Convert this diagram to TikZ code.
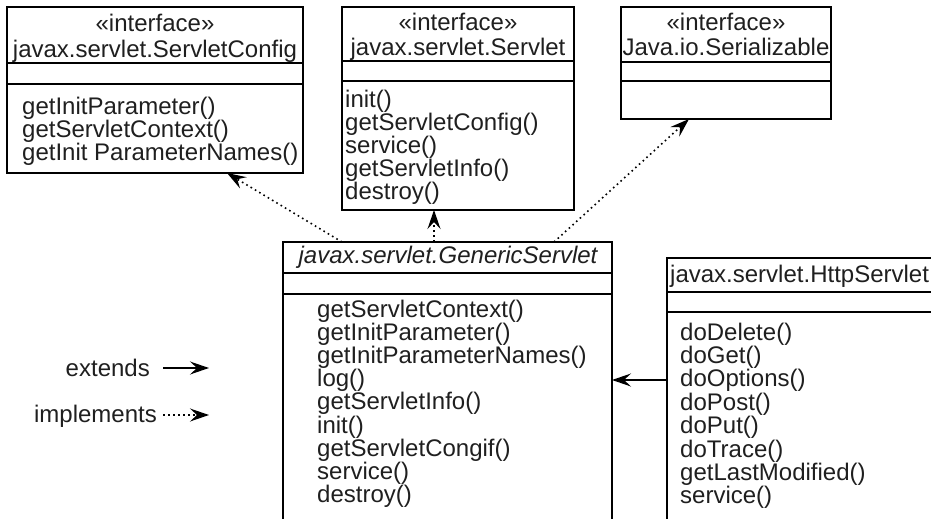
\documentclass[tikz,border=0pt]{standalone}
\usepackage{fontspec}
\setmainfont{Liberation Sans}
\usetikzlibrary{arrows.meta,calc}
\begin{document}
\begin{tikzpicture}[x=1pt,y=-1pt,
  box/.style={draw=black, line width=1.2pt, inner sep=0pt, outer sep=0pt, anchor=north west},
  divider/.style={draw=black, line width=1.2pt},
  txt/.style={font=\fontsize{24}{23}\selectfont, text=black!88, inner sep=0pt},
  hdr/.style={txt, anchor=base},
  meth/.style={txt, anchor=base west},
  tip/.style={-{Stealth[length=19pt,width=13pt,inset=7pt]}},
  impl/.style={tip, line width=1.6pt, dash pattern=on 1.6pt off 3.4pt},
  ext/.style={tip, line width=1.5pt}]
\useasboundingbox (0,0) rectangle (931,519);
\clip (0,0) rectangle (931,519);

% ServletConfig
\node[box, minimum width=296pt, minimum height=166pt] (cfg) at (7,7) {};
\draw[divider] (7,63) -- (303,63);
\draw[divider] (7,84) -- (303,84);
\node[hdr] (cfgh1) at (155,32) {«interface»};
\node[hdr] (cfgh2) at (155,57) {javax.servlet.ServletConfig};
\foreach \t [count=\i from 0] in {getInitParameter(),getServletContext(),getInit ParameterNames()}
  \node[meth] (cfgm\i) at (22,114+23*\i) {\t};

% Servlet
\node[box, minimum width=232pt, minimum height=203pt] (srv) at (342,7) {};
\draw[divider] (342,61) -- (574,61);
\draw[divider] (342,81) -- (574,81);
\node[hdr] (srvh1) at (458,31) {«interface»};
\node[hdr] (srvh2) at (458,56) {javax.servlet.Servlet};
\foreach \t [count=\i from 0] in {init(),getServletConfig(),service(),getServletInfo(),destroy()}
  \node[meth] (srvm\i) at (345,107+23*\i) {\t};

% Serializable
\node[box, minimum width=210pt, minimum height=112pt] (ser) at (621,7) {};
\draw[divider] (621,62) -- (831,62);
\draw[divider] (621,81) -- (831,81);
\node[hdr] (serh1) at (726,31) {«interface»};
\node[hdr] (serh2) at (726,56) {Java.io.Serializable};

% GenericServlet
\node[box, minimum width=329pt, minimum height=300pt] (gen) at (283,242) {};
\draw[divider] (283,273) -- (612,273);
\draw[divider] (283,294) -- (612,294);
\node[hdr] (genh) at (448,263) {\itshape javax.servlet.GenericServlet};
\foreach \t [count=\i from 0] in {getServletContext(),getInitParameter(),getInitParameterNames(),log(),getServletInfo(),init(),getServletCongif(),service(),destroy()}
  \node[meth] (genm\i) at (317,317+23.2*\i) {\t};

% HttpServlet
\node[box, minimum width=300pt, minimum height=290pt] (http) at (667,258) {};
\draw[divider] (667,292) -- (967,292);
\draw[divider] (667,312) -- (967,312);
\node[meth] (httph) at (670,282) {javax.servlet.HttpServlet};
\foreach \t [count=\i from 0] in {doDelete(),doGet(),doOptions(),doPost(),doPut(),doTrace(),getLastModified(),service()}
  \node[meth] (httpm\i) at (680,340+23.4*\i) {\t};

% connectors
\draw[impl] ($(gen.north west)+(59,0)$) -- ($(cfg.south west)+(220,0)$);
\draw[impl] ($(gen.north west)+(151,0)$) -- ($(srv.south west)+(92,0)$);
\draw[impl] ($(gen.north west)+(271,0)$) -- ($(ser.south west)+(68,0)$);
\coordinate (hx) at (700,380);
\draw[ext] (http.west |- hx) -- (gen.east |- hx);

% legend
\node[txt, anchor=base east] (lext) at (150,376) {extends};
\node[txt, anchor=base east] (limp) at (157,422) {implements};
\coordinate (le1) at (163,368);
\coordinate (le2) at (209,368);
\coordinate (li1) at (163,415);
\coordinate (li2) at (209,415);
\draw[ext] (le1) -- (le2);
\draw[impl] (li1) -- (li2);
\end{tikzpicture}
\end{document}
